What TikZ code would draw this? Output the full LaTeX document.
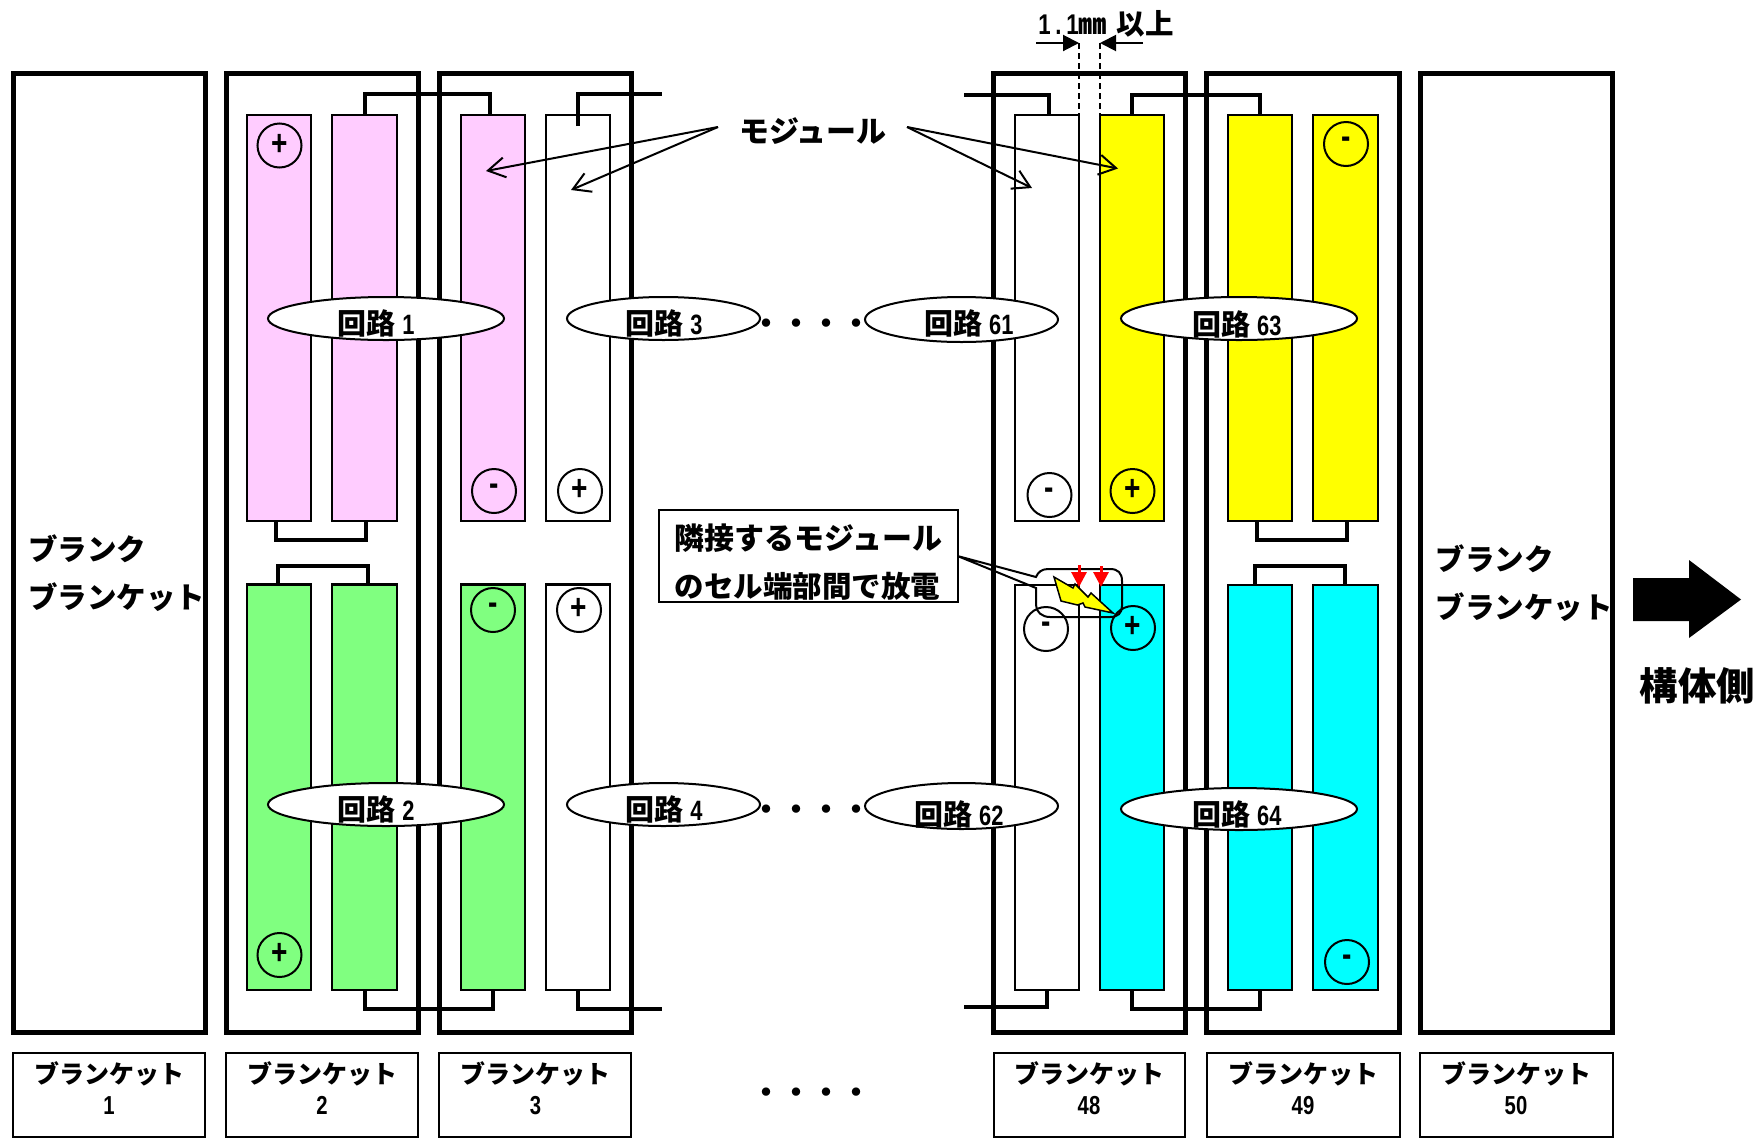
\documentclass[tikz,border=0pt]{standalone}
\usepackage{fontspec}
\usetikzlibrary{arrows.meta,calc,shapes.geometric}
\newfontfamily\jp{Noto Sans CJK JP}
\newfontfamily\numf[FakeStretch=0.78]{Liberation Sans}
\newcommand{\jtxt}[1]{\fontsize{#1}{#1}\selectfont\jp\bfseries}
\newcommand{\rectnode}[6]{%
  \pgfmathsetmacro\cxx{(#3+#5)/2}\pgfmathsetmacro\cyy{(#4+#6)/2}%
  \pgfmathsetmacro\wxx{#5-#3}\pgfmathsetmacro\hxx{#6-#4}%
  \node[#1,minimum width=\wxx pt,minimum height=\hxx pt] (#2) at (\cxx,\cyy) {};}
\newcommand{\ellnode}[6]{%
  \pgfmathsetmacro\cxx{(#3+#5)/2}\pgfmathsetmacro\cyy{(#4+#6)/2}%
  \pgfmathsetmacro\wxx{#5-#3}\pgfmathsetmacro\hxx{#6-#4}%
  \node[circuit,minimum width=\wxx pt,minimum height=\hxx pt] (#2) at (\cxx,\cyy) {};}
\definecolor{cpink}{HTML}{FFCCFF}
\definecolor{cgreen}{HTML}{80FF80}
\definecolor{cyel}{HTML}{FFFF00}
\definecolor{ccyan}{HTML}{00FFFF}
\tikzset{
  boxbase/.style={draw=black,rectangle,inner sep=0pt,outer sep=0pt},
  blanket/.style={boxbase,line width=5pt,miter limit=10},
  module/.style={boxbase,line width=2.6pt},
  labelbox/.style={boxbase,line width=2pt,fill=white},
  circuit/.style={draw=black,ellipse,fill=white,line width=2pt,inner sep=0pt,outer sep=0pt},
  pole/.style={draw=black,circle,line width=2pt,minimum size=44pt,inner sep=0pt,outer sep=0pt},
  conn/.style={draw=black,line width=4pt,line join=miter},
  txt/.style={inner sep=0pt,outer sep=0pt,anchor=center},
  moduleptr/.style={draw=black,line width=2pt,-{Straight Barb[length=17pt,width=20pt,line width=2pt]}},
  dim/.style={draw=black,line width=2pt,-{Triangle[length=16pt,width=16pt]}},
  redarrow/.style={draw=red,line width=3pt,-{Triangle[length=15pt,width=15pt,fill=red]}},
  guide/.style={draw=black,line width=1.5pt,dash pattern=on 6pt off 4pt},
}
\newcommand{\plusmark}{\raisebox{2pt}{\fontsize{36}{36}\selectfont\numf\bfseries +}}
\newcommand{\minusmark}{\raisebox{2pt}{\fontsize{36}{36}\selectfont\numf\bfseries -}}
\newcommand{\circuittext}[1]{\jtxt{29}回路 {\numf\bfseries\fontsize{28}{28}\selectfont #1}}
\begin{document}
\begin{tikzpicture}[x=1pt,y=-1pt]
\useasboundingbox (0,0) rectangle (1760,1138);
\fill[white] (0,0) rectangle (1760,1138);

% modules
\rectnode{module,fill=cpink}{m1}{247}{115}{311}{521}
\rectnode{module,fill=cpink}{m2}{332}{115}{397}{521}
\rectnode{module,fill=cpink}{m3}{461}{115}{525}{521}
\rectnode{module,fill=white}{m4}{546}{115}{610}{521}
\rectnode{module,fill=white}{m5}{1015}{115}{1079}{521}
\rectnode{module,fill=cyel}{m6}{1100}{115}{1164}{521}
\rectnode{module,fill=cyel}{m7}{1228}{115}{1292}{521}
\rectnode{module,fill=cyel}{m8}{1313}{115}{1378}{521}
\rectnode{module,fill=cgreen}{n1}{247}{584.5}{311}{990}
\rectnode{module,fill=cgreen}{n2}{332}{584.5}{397}{990}
\rectnode{module,fill=cgreen}{n3}{461}{584.5}{525}{990}
\rectnode{module,fill=white}{n4}{546}{584.5}{610}{990}
\rectnode{module,fill=white}{n5}{1015}{585}{1079}{990}
\rectnode{module,fill=ccyan}{n6}{1100}{585}{1164}{990}
\rectnode{module,fill=ccyan}{n7}{1228}{585}{1292}{990}
\rectnode{module,fill=ccyan}{n8}{1313}{585}{1378}{990}

% free ends
\coordinate (fr1) at (662,94);
\coordinate (fr2) at (662,1009);
\coordinate (fl1) at (964,95);
\coordinate (fl2) at (964,1007);

% connectors
\draw[conn] ([xshift=-3pt]m1.south) -- ++(0,19) -| ([xshift=1pt]m2.south);
\draw[conn] ([xshift=-1pt]n1.north) -- ++(0,-19) -| ([xshift=3pt]n2.north);
\draw[conn] (m2.north) -- ++(0,-21) -| ([xshift=-3pt]m3.north);
\draw[conn] (n2.south) -- ++(0,19) -| (n3.south);
\draw[conn] ([yshift=-11pt]m4.north) -- (m4.north |- fr1) -- (fr1);
\draw[conn] (n4.south) -- (n4.south |- fr2) -- (fr2);
\draw[conn] (fl1) -| ([xshift=2pt]m5.north);
\draw[conn] (fl2) -| (n5.south);
\draw[conn] (m6.north) -- ++(0,-20) -| (m7.north);
\draw[conn] (n6.south) -- ++(0,19) -| (n7.south);
\draw[conn] ([xshift=-3pt]m7.south) -- ++(0,19) -| ([xshift=1pt]m8.south);
\draw[conn] ([xshift=-5pt]n7.north) -- ++(0,-19) -| ([xshift=-1pt]n8.north);

% blanket frames
\rectnode{blanket}{b1}{13}{73}{205}{1032}
\rectnode{blanket}{b2}{226}{73}{418.5}{1032}
\rectnode{blanket}{b3}{439.5}{73}{631}{1032}
\rectnode{blanket}{b48}{993.5}{73}{1185}{1032}
\rectnode{blanket}{b49}{1206.5}{73}{1399}{1032}
\rectnode{blanket}{b50}{1420}{73}{1612}{1032}

% pole marks
\node[pole] (p1) at (279.5,145.5) {\plusmark};
\node[pole] (p2) at (494,491) {\minusmark};
\node[pole] (p3) at (580,491) {\plusmark};
\node[pole] (p4) at (1049.5,495) {\minusmark};
\node[pole] (p5) at (1132.5,491) {\plusmark};
\node[pole] (p6) at (1346,144) {\minusmark};
\node[pole] (p7) at (493,610) {\minusmark};
\node[pole] (p8) at (579,610) {\plusmark};
\node[pole] (p9) at (279.5,955) {\plusmark};
\node[pole] (p10) at (1347,962) {\minusmark};
\node[pole] (p11) at (1046,629) {\minusmark};
\node[pole] (p12) at (1133,628) {\plusmark};

% circuit ellipses
\ellnode{circuit}{e1}{268}{297}{504}{340}
\ellnode{circuit}{e2}{268}{783}{504}{826}
\ellnode{circuit}{e3}{567}{297}{760}{340}
\ellnode{circuit}{e4}{567}{783}{760}{826}
\ellnode{circuit}{e61}{865}{297}{1058}{342}
\ellnode{circuit}{e62}{865}{783}{1058}{829}
\ellnode{circuit}{e63}{1121}{297}{1357}{340}
\ellnode{circuit}{e64}{1121}{788}{1357}{830}
\node[txt] (t1) at (376,323) {\circuittext{1}};
\node[txt] (t2) at (376,809) {\circuittext{2}};
\node[txt] (t3) at (664,323) {\circuittext{3}};
\node[txt] (t4) at (664,809) {\circuittext{4}};
\node[txt] (t61) at (969,323) {\circuittext{61}};
\node[txt] (t62) at (959,814) {\circuittext{62}};
\node[txt] (t63) at (1237,324) {\circuittext{63}};
\node[txt] (t64) at (1237,814) {\circuittext{64}};

% ellipsis dots
\node[txt] (d1) at (811,326.5) {\jtxt{30}・・・・};
\node[txt] (d2) at (811,812.5) {\jtxt{30}・・・・};
\node[txt] (d3) at (811,1095.5) {\jtxt{30}・・・・};

% module pointers
\node[txt] (modlabel) at (813,131) {\jtxt{30}モジュール};
\coordinate (pl) at (718,127);
\coordinate (pr) at (907,127);
\coordinate (ta) at (486,171);
\coordinate (tb) at (571,190);
\coordinate (tc) at (1032,188);
\coordinate (td) at (1118,168.5);
\draw[moduleptr] (pl) -- (ta);
\draw[moduleptr] (pl) -- (tb);
\draw[moduleptr] (pr) -- (tc);
\draw[moduleptr] (pr) -- (td);

% blank blanket labels
\node[txt,anchor=west] (bk1) at (28,549) {\jtxt{29.5}ブランク};
\node[txt,anchor=west] (bk2) at (28,597) {\jtxt{29.5}ブランケット};
\node[txt,anchor=west] (bk3) at (1435.5,559) {\jtxt{29.5}ブランク};
\node[txt,anchor=west] (bk4) at (1435.5,607) {\jtxt{29.5}ブランケット};

% body side
\node[txt] (body) at (1697.5,686) {\jtxt{38.5}構体側};
\fill[black] (1633,578) -- (1689,578) -- (1689,560) -- (1741,599.5) -- (1689,638) -- (1689,621) -- (1633,621) -- cycle;

% blanket number boxes
\rectnode{labelbox}{l1}{13}{1053}{205}{1137}
\rectnode{labelbox}{l2}{226}{1053}{418}{1137}
\rectnode{labelbox}{l3}{439}{1053}{631}{1137}
\rectnode{labelbox}{l48}{993.5}{1053}{1185}{1137}
\rectnode{labelbox}{l49}{1207}{1053}{1399.5}{1137}
\rectnode{labelbox}{l50}{1420}{1053}{1612.5}{1137}
\foreach \bx/\bn in {109/1,322/2,535.5/3,1089/48,1303/49,1516/50}{
  \node[txt] at (\bx,1074) {\jtxt{25}ブランケット};
  \node[txt] at (\bx,1105.5) {\fontsize{26}{26}\selectfont\numf\bfseries\bn};
}

% gap dimension
\node[txt] (gap) at (1106,24) {\jtxt{28.5}{\numf\bfseries 1\,.\,1}㎜\,\,以上};
\coordinate (da) at (1036,43);
\coordinate (db) at (1079,43);
\coordinate (dc) at (1143,43);
\coordinate (dd) at (1100,43);
\draw[dim] (da) -- (db);
\draw[dim] (dc) -- (dd);
\draw[guide] (db) -- (db |- m5.north);
\draw[guide] (dd) -- (dd |- m6.north);

% callout
\node[labelbox,minimum width=299pt,minimum height=92pt] (note) at (808,556) {};
\node[txt,anchor=west] (n1t) at (674.5,538) {\jtxt{30}隣接するモジュール};
\node[txt,anchor=west] (n2t) at (674.5,586.5) {\jtxt{29.5}のセル端部間で放電};
\draw[line width=2pt,draw=black]
  (note.east) -- (1036,577)
  .. controls (1038,572) and (1042,569) .. (1048,569)
  -- (1110,569)
  .. controls (1118,569) and (1122,573) .. (1122,581)
  -- (1122,606)
  .. controls (1122,613) and (1118,617) .. (1110,617)
  -- (1050,617)
  .. controls (1042,617) and (1036,612) .. (1036,605)
  -- (1036,588) -- (note.east);
\filldraw[fill=cyel,draw=black,line width=1.5pt] (1054,577) -- (1073,588) -- (1075,584) -- (1088,597) -- (1091,593) -- (1113,613) -- (1085,607) -- (1083,603) -- (1077.5,605) -- (1061,601) -- cycle;
\coordinate (r1a) at (1079,565);
\coordinate (r1b) at (1079,587);
\coordinate (r2a) at (1101,566);
\coordinate (r2b) at (1101,587);
\draw[redarrow] (r1a) -- (r1b);
\draw[redarrow] (r2a) -- (r2b);
\end{tikzpicture}
\end{document}
